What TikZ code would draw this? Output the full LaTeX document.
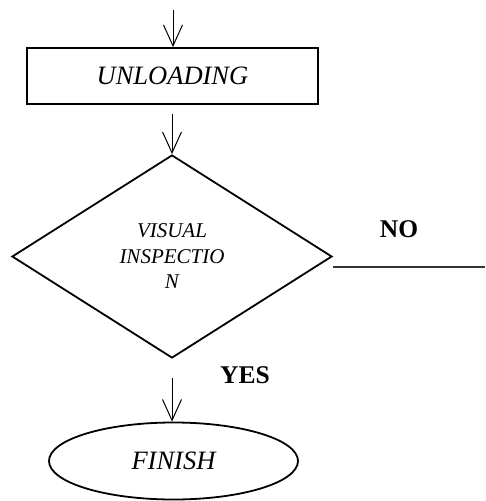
\documentclass[tikz,border=0pt]{standalone}
\usepackage{fontspec}
\setmainfont{Liberation Serif}
\usetikzlibrary{shapes.geometric,arrows.meta}
\begin{document}
\begin{tikzpicture}[x=1pt,y=-1pt,
  shapeline/.style={draw=black,line width=1.8pt},
  flow/.style={draw=black,line width=1pt,-{Straight Barb[length=21pt,width=19pt,line width=1pt]}},
  stepbox/.style={shapeline,rectangle,minimum width=291pt,minimum height=56pt,inner sep=0pt,
    font=\fontsize{26.5}{30}\selectfont\itshape},
  decision/.style={shapeline,diamond,minimum width=320pt,minimum height=203pt,inner sep=0pt,
    align=center,font=\fontsize{21}{25.5}\selectfont\itshape},
  terminal/.style={shapeline,ellipse,minimum width=249pt,minimum height=77pt,inner sep=0pt,
    font=\fontsize{26.5}{30}\selectfont\itshape},
  answer/.style={anchor=base,inner sep=0pt,font=\fontsize{25.5}{30}\selectfont\bfseries},
  noline/.style={draw=black!80,line width=1.1pt}]
  \useasboundingbox (0,0) rectangle (485,501);

  % process steps
  \node[stepbox] (unload) at (172.5,76) {UNLOADING};
  \node[decision] (inspect) at (172,256.5) {VISUAL\\INSPECTIO\\N};
  \node[terminal] (finish) at (173.5,461) {FINISH};

  % branch labels
  \node[answer] (no) at (399,237) {NO};
  \node[answer] (yes) at (245,383) {YES};

  % free ends of the connectors
  \coordinate (entry) at (173,10);
  \coordinate (yesstart) at (172,378);
  \coordinate (noend) at (485,267);

  % connectors
  \draw[flow] (entry) -- (unload.north -| entry);
  \draw[flow,shorten <=9pt] (unload.south -| inspect.north) -- (inspect.north);
  \draw[flow] (yesstart) -- (finish.north -| yesstart);
  \draw[noline] (inspect.east |- noend) -- (noend);
\end{tikzpicture}
\end{document}
